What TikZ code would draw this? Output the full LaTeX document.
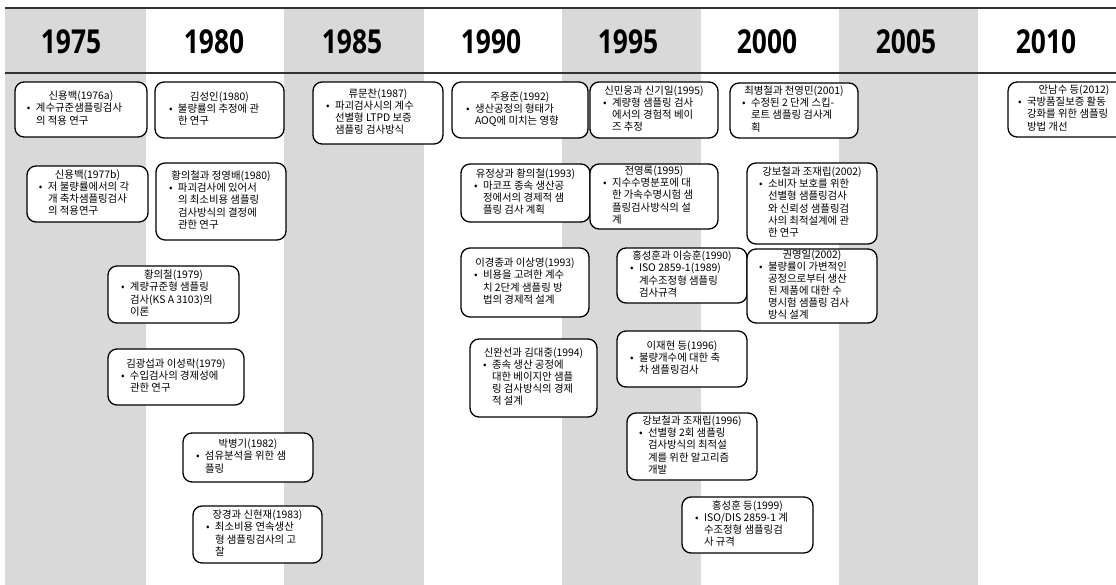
\documentclass[tikz,border=0pt]{standalone}
\usepackage{fontspec}
\setmainfont{Noto Sans CJK KR}
\newfontfamily\yearfont{Open Sans}
\definecolor{stripe}{HTML}{D9D9D9}
\definecolor{rulec}{HTML}{333333}
\newcommand\ent[4]{%
  \parbox{#1pt}{\centering #3\par\raggedright\hspace*{#2pt}\makebox[9pt][l]{\textbullet}\begin{tabular}[t]{@{}l@{}}#4\end{tabular}\par}}
\tikzset{
  entry/.style={draw=black, line width=1.3pt, rounded corners=9pt, fill=white,
    inner sep=0pt, font=\fontsize{10.4}{12}\selectfont, text=black},
  yr/.style={font=\yearfont\bfseries\fontsize{33}{36}\selectfont, text=black, inner sep=0pt},
  band/.style={fill=stripe, draw=none},
  hrule/.style={draw=rulec, line width=2pt}
}
\begin{document}
\begin{tikzpicture}[x=1pt,y=-1pt]
\path[use as bounding box] (0,0) rectangle (1116,585);
\clip (0,0) rectangle (1116,585);
% stripes
\fill[band] (5,8) rectangle (146,585);
\fill[band] (284,8) rectangle (424,585);
\fill[band] (562,8) rectangle (701,585);
\fill[band] (839,8) rectangle (978,585);
% header rules
\coordinate (tl) at (5,8);
\coordinate (tr) at (1116,8);
\coordinate (bl) at (5,73);
\coordinate (br) at (1116,73);
\draw[hrule] (tl) -- (tr);
\draw[hrule] (bl) -- (br);
% years
\node[yr] (y1975) at (71,42) {\scalebox{0.8}[1]{1975}};
\node[yr] (y1980) at (214,42) {\scalebox{0.8}[1]{1980}};
\node[yr] (y1985) at (352,42) {\scalebox{0.8}[1]{1985}};
\node[yr] (y1990) at (491,42) {\scalebox{0.8}[1]{1990}};
\node[yr] (y1995) at (628,42) {\scalebox{0.8}[1]{1995}};
\node[yr] (y2000) at (767,42) {\scalebox{0.8}[1]{2000}};
\node[yr] (y2005) at (906,42) {\scalebox{0.8}[1]{2005}};
\node[yr] (y2010) at (1046,42) {\scalebox{0.8}[1]{2010}};
% entries
\node[entry, minimum width=132pt, minimum height=55pt] (a1) at (81,109.5)
  {\ent{132}{12}{신용백(1976a)}{계수규준샘플링검사\\의 적용 연구}};
\node[entry, minimum width=129pt, minimum height=56pt] (a2) at (219.5,110)
  {\ent{129}{14}{김성인(1980)}{불량률의 추정에 관\\한 연구}};
\node[entry, minimum width=130pt, minimum height=62pt] (a3) at (378,113)
  {\ent{130}{13}{류문찬(1987)}{파괴검사시의 계수\\선별형 LTPD 보증\\샘플링 검사방식}};
\node[entry, minimum width=136pt, minimum height=56pt] (a4) at (520,110)
  {\ent{136}{14}{주용준(1992)}{생산공정의 형태가\\AOQ에 미치는 영향}};
\node[entry, minimum width=128pt, minimum height=56pt] (a5) at (654,110)
  {\ent{128}{13}{신민웅과 신기일(1995)}{계량형 샘플링 검사\\에서의 경험적 베이\\즈 추정}};
\node[entry, minimum width=128pt, minimum height=55pt] (a6) at (794,110.5)
  {\ent{128}{12}{최병철과 천영민(2001)}{수정된 2 단계 스킵-\\로트 샘플링 검사계\\획}};
\node[entry, minimum width=132pt, minimum height=55pt] (a7) at (1074,109.5)
  {\ent{132}{10}{안남수 등(2012)}{국방품질보증 활동\\강화를 위한 샘플링\\방법 개선}};
\node[entry, minimum width=121pt, minimum height=56pt] (b1) at (87.5,194)
  {\ent{121}{12}{신용백(1977b)}{저 불량률에서의 각\\개 축차샘플링검사\\의 적용연구}};
\node[entry, minimum width=130pt, minimum height=77pt] (b2) at (221,201.5)
  {\ent{130}{13}{황의철과 정영배(1980)}{파괴검사에 있어서\\의 최소비용 샘플링\\검사방식의 결정에\\관한 연구}};
\node[entry, minimum width=129pt, minimum height=58pt] (b3) at (525.5,193)
  {\ent{129}{13}{유정상과 황의철(1993)}{마코프 종속 생산공\\정에서의 경제적 샘\\플링 검사 계획}};
\node[entry, minimum width=128pt, minimum height=65pt] (b4) at (654,196.5)
  {\ent{128}{13}{전영록(1995)}{지수수명분포에 대\\한 가속수명시험 샘\\플링검사방식의 설\\계}};
\node[entry, minimum width=130pt, minimum height=81pt] (b5) at (812,203.5)
  {\ent{130}{12}{강보철과 조재립(2002)}{소비자 보호를 위한\\선별형 샘플링검사\\와 신뢰성 샘플링검\\사의 최적설계에 관\\한 연구}};
\node[entry, minimum width=131pt, minimum height=57pt] (c1) at (173.5,294.5)
  {\ent{131}{13}{황의철(1979)}{계량규준형 샘플링\\검사(KS A 3103)의\\이론}};
\node[entry, minimum width=128pt, minimum height=69pt] (c2) at (525,282.5)
  {\ent{128}{13}{이경종과 이상영(1993)}{비용을 고려한 계수\\치 2단계 샘플링 방\\법의 경제적 설계}};
\node[entry, minimum width=130pt, minimum height=55pt] (c3) at (682,275.5)
  {\ent{130}{13}{홍성훈과 이승훈(1990)}{ISO 2859-1(1989)\\계수조정형 샘플링\\검사규격}};
\node[entry, minimum width=130pt, minimum height=74pt] (c4) at (812,286)
  {\ent{130}{12}{권영일(2002)}{불량률이 가변적인\\공정으로부터 생산\\된 제품에 대한 수\\명시험 샘플링 검사\\방식 설계}};
\node[entry, minimum width=136pt, minimum height=56pt] (d1) at (176,377)
  {\ent{136}{13}{김광섭과 이성락(1979)}{수입검사의 경제성에\\관한 연구}};
\node[entry, minimum width=130pt, minimum height=56pt] (d2) at (682,359)
  {\ent{130}{13}{이재현 등(1996)}{불량개수에 대한 축\\차 샘플링검사}};
\node[entry, minimum width=127pt, minimum height=78pt] (d3) at (533.5,378)
  {\ent{127}{13}{신완선과 김대중(1994)}{종속 생산 공정에\\대한 베이지안 샘플\\링 검사방식의 경제\\적 설계}};
\node[entry, minimum width=130pt, minimum height=49pt] (e1) at (248,457.5)
  {\ent{130}{13}{박병기(1982)}{섬유분석을 위한 샘\\플링}};
\node[entry, minimum width=130pt, minimum height=67pt] (e2) at (692,446.5)
  {\ent{130}{12}{강보철과 조재립(1996)}{선별형 2회 샘플링\\검사방식의 최적설\\계를 위한 알고리즘\\개발}};
\node[entry, minimum width=129pt, minimum height=57pt] (f1) at (257.5,534.5)
  {\ent{129}{13}{장경과 신현재(1983)}{최소비용 연속생산\\형 샘플링검사의 고\\찰}};
\node[entry, minimum width=131pt, minimum height=56pt] (f2) at (747.5,525)
  {\ent{131}{13}{홍성훈 등(1999)}{ISO/DIS 2859-1 계\\수조정형 샘플링검\\사 규격}};
\end{tikzpicture}
\end{document}
